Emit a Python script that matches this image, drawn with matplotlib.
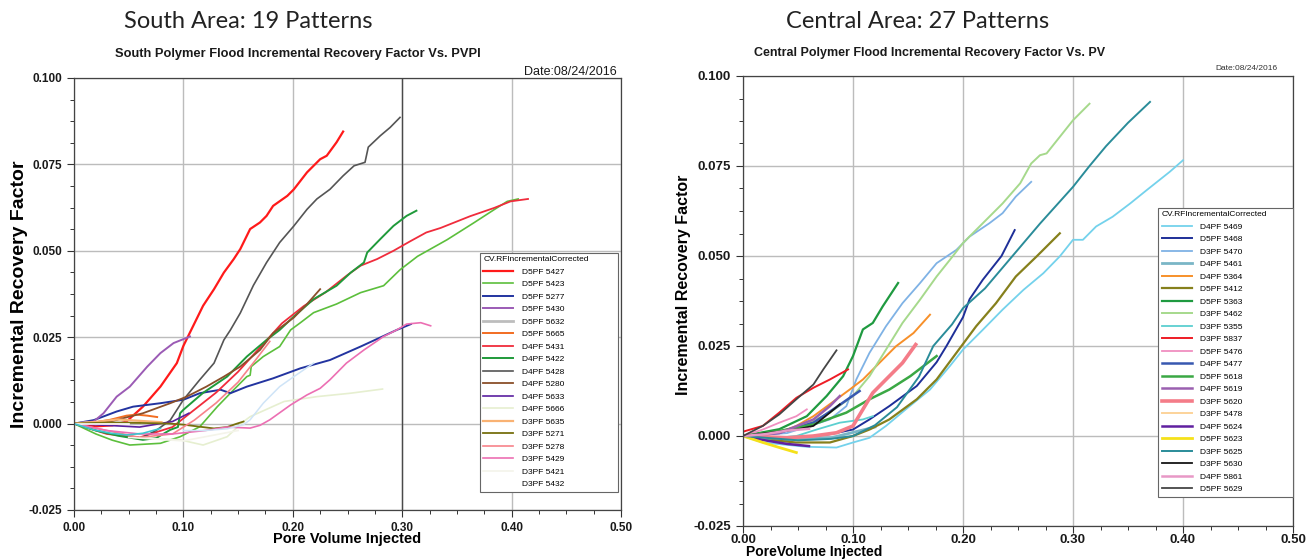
import matplotlib
matplotlib.use("Agg")
import matplotlib.pyplot as plt
from matplotlib.ticker import AutoMinorLocator, FormatStrFormatter

# ---------------- South area: pore volume injected vs incremental RF ----------------
s5427_pv = [0, 0.02, 0.035, 0.048, 0.063, 0.079, 0.094, 0.100, 0.109, 0.118, 0.128, 0.137, 0.146,
            0.152, 0.161, 0.170, 0.176, 0.182, 0.195, 0.201, 0.213, 0.225, 0.231, 0.240, 0.246]
s5427_rf = [0, -0.0008, -0.0005, 0.0006, 0.0049, 0.0107, 0.0175, 0.0225, 0.0283, 0.0341, 0.0389,
            0.0437, 0.0476, 0.0505, 0.0563, 0.0582, 0.0601, 0.063, 0.0659, 0.0678, 0.0727, 0.0765,
            0.0775, 0.0814, 0.0845]
s5423_pv = [0, 0.02, 0.035, 0.051, 0.079, 0.097, 0.115, 0.131, 0.146, 0.158, 0.161, 0.162, 0.173,
            0.188, 0.198, 0.207, 0.219, 0.240, 0.262, 0.283, 0.298, 0.314, 0.341, 0.365, 0.384,
            0.396, 0.406]
s5423_rf = [0, -0.003, -0.0048, -0.0062, -0.0057, -0.0038, -0.0009, 0.0049, 0.0098, 0.0136, 0.014,
            0.0165, 0.0194, 0.0223, 0.0271, 0.0292, 0.0321, 0.0346, 0.0379, 0.0399, 0.0445, 0.0484,
            0.0532, 0.058, 0.0619, 0.0643, 0.065]
s5277_pv = [0, 0, 0.018, 0.039, 0.054, 0.079, 0.100, 0.115, 0.134, 0.143, 0.158, 0.182, 0.207,
            0.234, 0.262, 0.295, 0.308]
s5277_rf = [-0.008, 0, 0.001, 0.0035, 0.0049, 0.0059, 0.0069, 0.0088, 0.0098, 0.0088, 0.0107,
            0.0131, 0.016, 0.0184, 0.0223, 0.0271, 0.0288]
s5430_pv = [0, 0.018, 0.027, 0.039, 0.051, 0.067, 0.079, 0.091, 0.106]
s5430_rf = [0, 0.0006, 0.003, 0.0078, 0.0107, 0.0165, 0.0204, 0.0233, 0.0252]
s5632_pv = [0, 0.02, 0.04, 0.06]
s5632_rf = [0, 0.0003, 0.0002, 0.0001]
s5665_pv = [0, 0, 0.018, 0.033, 0.048, 0.057, 0.067, 0.076]
s5665_rf = [-0.005, 0, 0.0003, 0.0011, 0.0023, 0.0026, 0.0023, 0.0019]
s5431_pv = [0, 0.03, 0.06, 0.09, 0.11, 0.13, 0.15, 0.17, 0.19, 0.21, 0.23, 0.25, 0.262, 0.277,
            0.292, 0.307, 0.322, 0.335, 0.362, 0.384, 0.399, 0.415]
s5431_rf = [0, -0.003, -0.004, -0.001, 0.004, 0.009, 0.015, 0.022, 0.029, 0.034, 0.038, 0.043,
            0.0457, 0.0476, 0.050, 0.0527, 0.0553, 0.0566, 0.060, 0.0624, 0.0643, 0.065]
s5422_pv = [0, 0.02, 0.04, 0.063, 0.075, 0.088, 0.095, 0.097, 0.1, 0.118, 0.140, 0.158, 0.176,
            0.188, 0.2, 0.219, 0.240, 0.253, 0.265, 0.268, 0.280, 0.292, 0.304, 0.313]
s5422_rf = [0, -0.002, -0.0035, -0.0047, -0.0042, -0.0018, -0.001, 0.003, 0.004, 0.0089, 0.0136,
            0.0194, 0.0242, 0.0271, 0.0307, 0.036, 0.0399, 0.0437, 0.0466, 0.0495, 0.0534, 0.0572,
            0.0601, 0.0616]
s5428_pv = [0.062, 0.075, 0.088, 0.100, 0.115, 0.128, 0.137, 0.143, 0.152, 0.164, 0.176, 0.188,
            0.201, 0.213, 0.222, 0.234, 0.246, 0.256, 0.266, 0.269, 0.280, 0.289, 0.298]
s5428_rf = [-0.0041, -0.002, 0.001, 0.0069, 0.0127, 0.0175, 0.0242, 0.0271, 0.032, 0.040, 0.0466,
            0.0524, 0.0572, 0.062, 0.065, 0.0678, 0.0717, 0.0746, 0.0756, 0.080, 0.0833, 0.0857,
            0.0886]
s5280_pv = [0, 0.033, 0.063, 0.088, 0.103, 0.121, 0.137, 0.152, 0.170, 0.182, 0.201, 0.213, 0.225]
s5280_rf = [0, 0.0006, 0.003, 0.0059, 0.0078, 0.0107, 0.0136, 0.0165, 0.0213, 0.0262, 0.0307,
            0.0346, 0.0389]
s5633_pv = [0, 0.03, 0.06, 0.09, 0.105]
s5633_rf = [0, -0.0005, -0.001, 0.0006, 0.003]
s5666_pv = [0.06, 0.08, 0.097, 0.118, 0.14, 0.155, 0.161, 0.192, 0.222, 0.253, 0.282]
s5666_rf = [-0.004, -0.0045, -0.0047, -0.0062, -0.0038, 0.0006, 0.002, 0.0064, 0.0078, 0.0088, 0.010]
s5635_pv = [0, 0.02, 0.04, 0.06, 0.08]
s5635_rf = [0, 0.0005, 0.0012, 0.0008, 0.0004]
s5271_pv = [0, 0.03, 0.06, 0.088, 0.1, 0.115, 0.128, 0.14, 0.149, 0.155]
s5271_rf = [0, 0.0003, 0.0002, 0, -0.0003, -0.0009, -0.0014, -0.001, 0, 0.0006]
s5278_pv = [0, 0.03, 0.06, 0.09, 0.11, 0.13, 0.15, 0.165, 0.179]
s5278_rf = [0, -0.002, -0.004, -0.003, 0.001, 0.006, 0.012, 0.018, 0.0238]
s5429_pv = [0, 0.03, 0.06, 0.09, 0.12, 0.14, 0.161, 0.17, 0.179, 0.198, 0.213, 0.225, 0.234, 0.249,
            0.265, 0.283, 0.295, 0.304, 0.317, 0.326]
s5429_rf = [0, -0.002, -0.003, -0.003, -0.002, -0.001, -0.0013, -0.0005, 0.0011, 0.0054, 0.0083,
            0.0102, 0.0127, 0.0175, 0.0213, 0.0252, 0.0271, 0.0288, 0.0292, 0.0283]
s5421_pv = [0.05, 0.1, 0.15]
s5421_rf = [-0.004, -0.005, -0.002]
s5432_pv = [0, 0.05]
s5432_rf = [0, 0]
# two further south patterns that are not listed in the legend
s_extra1_pv = [0.1, 0.12, 0.14, 0.155, 0.161, 0.173, 0.188, 0.201, 0.219]
s_extra1_rf = [-0.002, -0.002, -0.0015, -0.0003, 0.0011, 0.0059, 0.0107, 0.0136, 0.0175]
s_extra2_pv = [0, 0.018, 0.034, 0.048, 0.063, 0.079]
s_extra2_rf = [0, -0.0018, -0.0028, -0.0033, -0.0028, -0.0014]

south_labels = ["D5PF 5427", "D5PF 5423", "D5PF 5277", "D5PF 5430", "D5PF 5632", "D5PF 5665",
                "D4PF 5431", "D4PF 5422", "D4PF 5428", "D4PF 5280", "D4PF 5633", "D4PF 5666",
                "D3PF 5635", "D3PF 5271", "D3PF 5278", "D3PF 5429", "D3PF 5421", "D3PF 5432"]

# ---------------- Central area ----------------
c5469_pv = [0, 0.018, 0.058, 0.085, 0.1, 0.115, 0.130, 0.148, 0.170, 0.188, 0.2, 0.218, 0.236,
            0.255, 0.273, 0.288, 0.3, 0.309, 0.321, 0.336, 0.352, 0.367, 0.388, 0.40]
c5469_rf = [0, -0.0018, -0.003, -0.0032, -0.0018, -0.0005, 0.0028, 0.0074, 0.0129, 0.0194, 0.024,
            0.0295, 0.0351, 0.0406, 0.0452, 0.0499, 0.0545, 0.0545, 0.0582, 0.0609, 0.0646, 0.0683,
            0.0734, 0.0766]
c5468_pv = [0, 0.048, 0.079, 0.1, 0.115, 0.133, 0.158, 0.176, 0.185, 0.2, 0.206, 0.218, 0.235, 0.247]
c5468_rf = [0, -0.0005, 0.0005, 0.0018, 0.0046, 0.0083, 0.0139, 0.0205, 0.025, 0.033, 0.038,
            0.0434, 0.050, 0.0572]
c5470_pv = [0, 0.04, 0.079, 0.094, 0.103, 0.115, 0.130, 0.145, 0.161, 0.176, 0.194, 0.206, 0.224,
            0.236, 0.248, 0.262]
c5470_rf = [0, 0.0008, 0.0046, 0.0083, 0.0157, 0.0231, 0.0305, 0.0369, 0.0425, 0.048, 0.0517,
            0.0554, 0.0591, 0.0619, 0.0665, 0.0706]
c5461_pv = [0, 0.04, 0.08, 0.12]
c5461_rf = [0, -0.001, -0.0005, 0.0025]
c5364_pv = [0, 0.033, 0.0485, 0.064, 0.085, 0.097, 0.109, 0.124, 0.139, 0.155, 0.17]
c5364_rf = [0, 0.001, 0.0028, 0.0055, 0.0102, 0.0129, 0.0157, 0.0203, 0.0249, 0.0286, 0.0337]
c5412_pv = [0, 0.018, 0.048, 0.079, 0.1, 0.115, 0.133, 0.158, 0.176, 0.194, 0.212, 0.23, 0.248,
            0.267, 0.288]
c5412_rf = [0, -0.0009, -0.0018, -0.0018, 0, 0.0018, 0.0046, 0.0102, 0.0157, 0.0231, 0.0305,
            0.0369, 0.0443, 0.0499, 0.0563]
c5363_pv = [0, 0.033, 0.058, 0.076, 0.091, 0.1, 0.109, 0.118, 0.127, 0.141]
c5363_rf = [0, 0.0019, 0.0055, 0.0111, 0.0166, 0.0222, 0.0296, 0.0314, 0.036, 0.0425]
c5462_pv = [0, 0.048, 0.079, 0.1, 0.115, 0.130, 0.145, 0.161, 0.176, 0.188, 0.2, 0.218, 0.236,
            0.252, 0.262, 0.270, 0.276, 0.288, 0.3, 0.315]
c5462_rf = [0, 0.0018, 0.0065, 0.0111, 0.0166, 0.024, 0.0314, 0.0379, 0.0443, 0.0489, 0.0536,
            0.0591, 0.0646, 0.0702, 0.0757, 0.078, 0.0785, 0.0831, 0.0877, 0.0923]
c5355_pv = [0, 0.018, 0.0485, 0.067, 0.088, 0.109, 0.118]
c5355_rf = [0, -0.0009, 0, 0.0018, 0.0037, 0.0046, 0.0055]
c5837_pv = [0, 0.018, 0.033, 0.0485, 0.064, 0.079, 0.0955]
c5837_rf = [0.0012, 0.0028, 0.0065, 0.0106, 0.0134, 0.0157, 0.0185]
c5476_pv = [0, 0.018, 0.033, 0.0485, 0.058]
c5476_rf = [0, 0.0018, 0.0037, 0.0055, 0.0074]
c5477_pv = [0, 0.033, 0.064, 0.082, 0.106]
c5477_rf = [0, 0.0009, 0.0037, 0.0074, 0.0125]
c5618_pv = [0, 0.033, 0.064, 0.094, 0.115, 0.133, 0.152, 0.176]
c5618_rf = [0, 0.0014, 0.0032, 0.0065, 0.0102, 0.0129, 0.0166, 0.0222]
c5619_pv = [0, 0.033, 0.064, 0.079, 0.088]
c5619_rf = [0, 0.0008, 0.0046, 0.0083, 0.0111]
c5620_pv = [0, 0.04, 0.064, 0.085, 0.1, 0.109, 0.118, 0.130, 0.145, 0.157]
c5620_rf = [0, -0.0005, 0, 0.0009, 0.0028, 0.0074, 0.012, 0.0157, 0.0203, 0.0254]
c5478_pv = [0, 0]
c5478_rf = [0, -0.0075]
c5624_pv = [0, 0.02, 0.04, 0.06]
c5624_rf = [0, -0.0012, -0.0022, -0.0028]
c5623_pv = [0, 0.018, 0.033, 0.0485]
c5623_rf = [0, -0.0018, -0.0032, -0.0046]
c5625_pv = [0, 0.05, 0.08, 0.1, 0.12, 0.14, 0.16, 0.173, 0.19, 0.2, 0.22, 0.245, 0.27, 0.3, 0.315,
            0.33, 0.35, 0.37]
c5625_rf = [0, -0.0012, -0.0008, 0, 0.003, 0.008, 0.0165, 0.025, 0.031, 0.0355, 0.041, 0.050,
            0.059, 0.0692, 0.075, 0.0805, 0.087, 0.0928]
c5630_pv = [0, 0.0485, 0.064, 0.079, 0.088]
c5630_rf = [0, 0.0018, 0.0028, 0.0065, 0.0088]
c5861_pv = [0, 0.02, 0.04, 0.06]
c5861_rf = [0, 0.0005, 0.0015, 0.002]
c5629_pv = [0, 0.018, 0.033, 0.0485, 0.064, 0.073, 0.085]
c5629_rf = [0, 0.0028, 0.006, 0.0102, 0.0143, 0.0185, 0.0238]

central_labels = ["D4PF 5469", "D5PF 5468", "D3PF 5470", "D4PF 5461", "D4PF 5364", "D5PF 5412",
                  "D5PF 5363", "D3PF 5462", "D3PF 5355", "D3PF 5837", "D5PF 5476", "D4PF 5477",
                  "D5PF 5618", "D4PF 5619", "D3PF 5620", "D3PF 5478", "D4PF 5624", "D5PF 5623",
                  "D3PF 5625", "D3PF 5630", "D4PF 5861", "D5PF 5629"]

x_ticks = [0.0, 0.1, 0.2, 0.3, 0.4, 0.5]
y_ticks = [-0.025, 0.0, 0.025, 0.05, 0.075, 0.1]

# ---------------- figure ----------------
plt.rcParams["font.family"] = ["Liberation Sans", "DejaVu Sans"]
W, H = 1309, 560
fig = plt.figure(figsize=(W / 100, H / 100), dpi=100)


def px_axes(l, t, r, b):
    return fig.add_axes([l / W, 1 - b / H, (r - l) / W, (b - t) / H])


ax1 = px_axes(74, 78, 621, 510)
ax2 = px_axes(743, 76, 1293, 526)

south_series = [
    (s5427_pv, s5427_rf, "#ff1a1a", 1.6),
    (s5423_pv, s5423_rf, "#5cbf3c", 1.2),
    (s5277_pv, s5277_rf, "#2334a0", 1.4),
    (s5430_pv, s5430_rf, "#9b5bb5", 1.4),
    (s5632_pv, s5632_rf, "#bdbdbd", 2.0),
    (s5665_pv, s5665_rf, "#f26d21", 1.4),
    (s5431_pv, s5431_rf, "#f02c3c", 1.3),
    (s5422_pv, s5422_rf, "#1f9a3a", 1.4),
    (s5428_pv, s5428_rf, "#555555", 1.2),
    (s5280_pv, s5280_rf, "#8a4f2a", 1.3),
    (s5633_pv, s5633_rf, "#5a1fa0", 1.2),
    (s5666_pv, s5666_rf, "#e6efd0", 1.2),
    (s5635_pv, s5635_rf, "#f9b273", 1.6),
    (s5271_pv, s5271_rf, "#76700e", 1.3),
    (s5278_pv, s5278_rf, "#f7838a", 1.2),
    (s5429_pv, s5429_rf, "#ec6fb3", 1.2),
    (s5421_pv, s5421_rf, "#f4f4ea", 1.2),
    (s5432_pv, s5432_rf, "#ffffff", 1.2),
]
south_extra = [
    (s_extra1_pv, s_extra1_rf, "#cfe4f7", 1.1),
    (s_extra2_pv, s_extra2_rf, "#3cc6cf", 1.2),
]

central_series = [
    (c5469_pv, c5469_rf, "#74d2ec", 1.3),
    (c5468_pv, c5468_rf, "#1e2f98", 1.4),
    (c5470_pv, c5470_rf, "#7fb2e5", 1.3),
    (c5461_pv, c5461_rf, "#7ab6c6", 2.0),
    (c5364_pv, c5364_rf, "#f7902a", 1.4),
    (c5412_pv, c5412_rf, "#86801c", 1.6),
    (c5363_pv, c5363_rf, "#1f9a40", 1.6),
    (c5462_pv, c5462_rf, "#a6d98c", 1.4),
    (c5355_pv, c5355_rf, "#5ccfd0", 1.3),
    (c5837_pv, c5837_rf, "#ee1c25", 1.4),
    (c5476_pv, c5476_rf, "#f08fc0", 1.3),
    (c5477_pv, c5477_rf, "#3858b0", 1.8),
    (c5618_pv, c5618_rf, "#3aa844", 1.8),
    (c5619_pv, c5619_rf, "#9a60b0", 1.8),
    (c5620_pv, c5620_rf, "#f47c88", 2.6),
    (c5478_pv, c5478_rf, "#fcd39a", 1.4),
    (c5624_pv, c5624_rf, "#6020a0", 1.8),
    (c5623_pv, c5623_rf, "#f5e11a", 2.0),
    (c5625_pv, c5625_rf, "#2a8c99", 1.4),
    (c5630_pv, c5630_rf, "#151515", 1.3),
    (c5861_pv, c5861_rf, "#e898c6", 1.8),
    (c5629_pv, c5629_rf, "#454545", 1.3),
]


def style_axes(ax, tick_size, xpad):
    ax.set_xlim(0, 0.5)
    ax.set_ylim(-0.025, 0.1)
    ax.set_xticks(x_ticks)
    ax.set_yticks(y_ticks)
    ax.xaxis.set_major_formatter(FormatStrFormatter("%.2f"))
    ax.yaxis.set_major_formatter(FormatStrFormatter("%.3f"))
    ax.xaxis.set_minor_locator(AutoMinorLocator(4))
    ax.yaxis.set_minor_locator(AutoMinorLocator(4))
    ax.tick_params(which="major", direction="out", length=5, width=0.8, colors="#333333",
                   labelsize=tick_size, labelcolor="#1a1a1a")
    ax.tick_params(axis="x", which="major", pad=xpad)
    ax.tick_params(which="minor", direction="out", length=3, width=0.7, colors="#333333")
    for lab in ax.get_xticklabels() + ax.get_yticklabels():
        lab.set_fontweight("bold")
    ax.grid(True, which="major", color="#bcbcbc", linewidth=1.0)
    ax.set_axisbelow(True)
    for sp in ax.spines.values():
        sp.set_color("#444444")
        sp.set_linewidth(0.9)


style_axes(ax1, 8.5, 3.5)
style_axes(ax2, 9.5, 1.0)
ax1.axvline(0.3, color="#4a4a4a", linewidth=1.0, zorder=0.9)

south_handles = []
for (pv, rf, c, lw), lab in zip(south_series, south_labels):
    h, = ax1.plot(pv, rf, color=c, linewidth=lw, label=lab)
    south_handles.append(h)
for pv, rf, c, lw in south_extra:
    ax1.plot(pv, rf, color=c, linewidth=lw)

central_handles = []
for (pv, rf, c, lw), lab in zip(central_series, central_labels):
    h, = ax2.plot(pv, rf, color=c, linewidth=lw, label=lab)
    central_handles.append(h)

leg_kw = dict(fontsize=6, title_fontsize=6, frameon=True, fancybox=False, framealpha=1,
              edgecolor="#666666", handlelength=3.6, handletextpad=1.0, borderaxespad=0,
              borderpad=0.4, labelspacing=0.56, mode="expand")
leg1 = ax1.legend(south_handles, south_labels, title="CV.RFIncrementalCorrected",
                  loc="upper left", bbox_to_anchor=(0.742, 0.028, 0.253, 0.567), **leg_kw)
leg1._legend_box.align = "left"
leg1.get_frame().set_linewidth(0.8)
leg2 = ax2.legend(central_handles, central_labels, title="CV.RFIncrementalCorrected",
                  loc="upper left", bbox_to_anchor=(0.755, 0.024, 0.245, 0.683), **leg_kw)
leg2._legend_box.align = "left"
leg2.get_frame().set_linewidth(0.8)

# axis labels
ax1.set_ylabel("Incremental Recovery Factor", fontsize=14, fontweight="bold")
ax1.yaxis.set_label_coords(-0.085, 0.5)
ax1.set_xlabel("Pore Volume Injected", fontsize=10.5, fontweight="bold", labelpad=-1)
ax2.set_ylabel("Incremental Recovery Factor", fontsize=11.5, fontweight="bold")
ax2.yaxis.set_label_coords(-0.095, 0.535)
ax2.set_xlabel("PoreVolume Injected", fontsize=10, fontweight="bold")
ax2.xaxis.set_label_coords(0.13, -0.043)
ax2.xaxis.label.set_va("top")

# headings
def ftext(x, y, s, **kw):
    fig.text(x / W, 1 - y / H, s, **kw)


ftext(248, 22, "South Area: 19 Patterns", fontsize=17, family=["Lato", "DejaVu Sans"],
      ha="center", va="center", color="#222222")
ftext(918, 22, "Central Area: 27 Patterns", fontsize=17, family=["Lato", "DejaVu Sans"],
      ha="center", va="center", color="#222222")
ftext(298, 54, "South Polymer Flood Incremental Recovery Factor Vs. PVPI", fontsize=9.3,
      fontweight="bold", ha="center", va="center", color="#1a1a1a")
ftext(930, 53, "Central Polymer Flood Incremental Recovery Factor Vs. PV", fontsize=9,
      fontweight="bold", ha="center", va="center", color="#1a1a1a")
ftext(617, 72, "Date:08/24/2016", fontsize=9, ha="right", va="center", color="#1a1a1a")
ftext(1277, 68, "Date:08/24/2016", fontsize=6, ha="right", va="center", color="#333333")

fig.savefig("out.png", dpi=100, facecolor="white")
